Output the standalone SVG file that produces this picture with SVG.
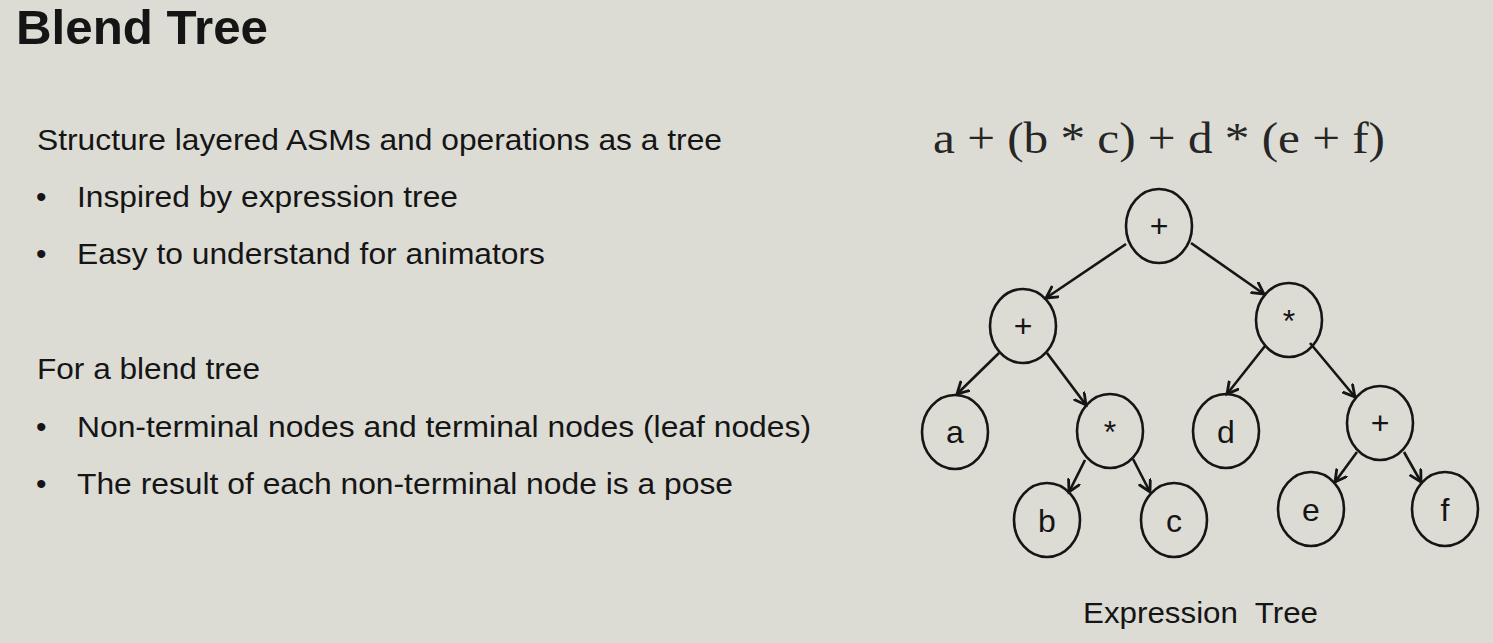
<svg xmlns="http://www.w3.org/2000/svg" width="1493" height="643" viewBox="0 0 1493 643">
<defs>
<style>
.bg{fill:#dcdcd5}
.t{font-family:"Liberation Sans",Arial,sans-serif;fill:#151515}
.body{font-size:30px}
.title{font-size:48px;font-weight:bold}
.expr{font-family:"Liberation Serif","Times New Roman",serif;font-size:44px;fill:#262626}
.node ellipse{fill:none;stroke:#151515;stroke-width:2.6}
.node text{font-family:"Liberation Sans",Arial,sans-serif;font-size:32px;fill:#151515;text-anchor:middle}
.edges line{stroke:#151515;stroke-width:2.6;marker-end:url(#arr)}
</style>
<marker id="arr" markerUnits="userSpaceOnUse" markerWidth="16" markerHeight="16" refX="12" refY="7" orient="auto">
<path d="M1,1 L12,7 L1,13" fill="none" stroke="#151515" stroke-width="2.8" stroke-linecap="round" stroke-linejoin="miter"/>
</marker>
</defs>
<rect class="bg" x="0" y="0" width="1493" height="643"/>

<text class="t title" x="16" y="44" textLength="252" lengthAdjust="spacingAndGlyphs">Blend Tree</text>

<g id="text-left">
<text class="t body" x="37" y="150" textLength="685" lengthAdjust="spacingAndGlyphs">Structure layered ASMs and operations as a tree</text>
<text class="t body" x="36" y="207">•</text>
<text class="t body" x="77" y="207" textLength="381" lengthAdjust="spacingAndGlyphs">Inspired by expression tree</text>
<text class="t body" x="36" y="264">•</text>
<text class="t body" x="77" y="264" textLength="468" lengthAdjust="spacingAndGlyphs">Easy to understand for animators</text>
<text class="t body" x="37" y="379" textLength="223" lengthAdjust="spacingAndGlyphs">For a blend tree</text>
<text class="t body" x="36" y="437">•</text>
<text class="t body" x="77" y="437" textLength="734" lengthAdjust="spacingAndGlyphs">Non-terminal nodes and terminal nodes (leaf nodes)</text>
<text class="t body" x="36" y="494">•</text>
<text class="t body" x="77" y="494" textLength="656" lengthAdjust="spacingAndGlyphs">The result of each non-terminal node is a pose</text>
</g>

<text class="expr" x="933" y="153" textLength="452" lengthAdjust="spacingAndGlyphs">a + (b * c) + d * (e + f)</text>

<g class="edges" id="connectors">
<line x1="1126" y1="244" x2="1046" y2="298"/>
<line x1="1191" y1="243" x2="1264" y2="294"/>
<line x1="999" y1="353" x2="957" y2="394"/>
<line x1="1047" y1="353" x2="1086" y2="405"/>
<line x1="1265" y1="346" x2="1227" y2="394"/>
<line x1="1310" y1="343" x2="1355" y2="397"/>
<line x1="1085" y1="460" x2="1069" y2="492"/>
<line x1="1133" y1="459" x2="1150" y2="492"/>
<line x1="1357" y1="452" x2="1335" y2="482"/>
<line x1="1404" y1="452" x2="1421" y2="482"/>
</g>

<g class="node" id="n-root"><ellipse cx="1159" cy="226" rx="33" ry="37"/><text x="1159" y="237">+</text></g>
<g class="node" id="n-plus1"><ellipse cx="1023" cy="326" rx="33" ry="37"/><text x="1023" y="337">+</text></g>
<g class="node" id="n-mul1"><ellipse cx="1289" cy="320" rx="33" ry="37"/><text x="1289" y="332">*</text></g>
<g class="node" id="n-a"><ellipse cx="955" cy="432" rx="33" ry="37"/><text x="955" y="443">a</text></g>
<g class="node" id="n-mul2"><ellipse cx="1110" cy="431" rx="33" ry="37"/><text x="1110" y="443">*</text></g>
<g class="node" id="n-d"><ellipse cx="1226" cy="431" rx="33" ry="37"/><text x="1226" y="443">d</text></g>
<g class="node" id="n-plus2"><ellipse cx="1380" cy="423" rx="33" ry="37"/><text x="1380" y="434">+</text></g>
<g class="node" id="n-b"><ellipse cx="1047" cy="520" rx="33" ry="37"/><text x="1047" y="532">b</text></g>
<g class="node" id="n-c"><ellipse cx="1174" cy="520" rx="33" ry="37"/><text x="1174" y="532">c</text></g>
<g class="node" id="n-e"><ellipse cx="1311" cy="509" rx="33" ry="37"/><text x="1311" y="521">e</text></g>
<g class="node" id="n-f"><ellipse cx="1445" cy="509" rx="33" ry="37"/><text x="1445" y="521">f</text></g>

<text class="t body" x="1083" y="623" textLength="235" lengthAdjust="spacingAndGlyphs">Expression&#160; Tree</text>
</svg>
